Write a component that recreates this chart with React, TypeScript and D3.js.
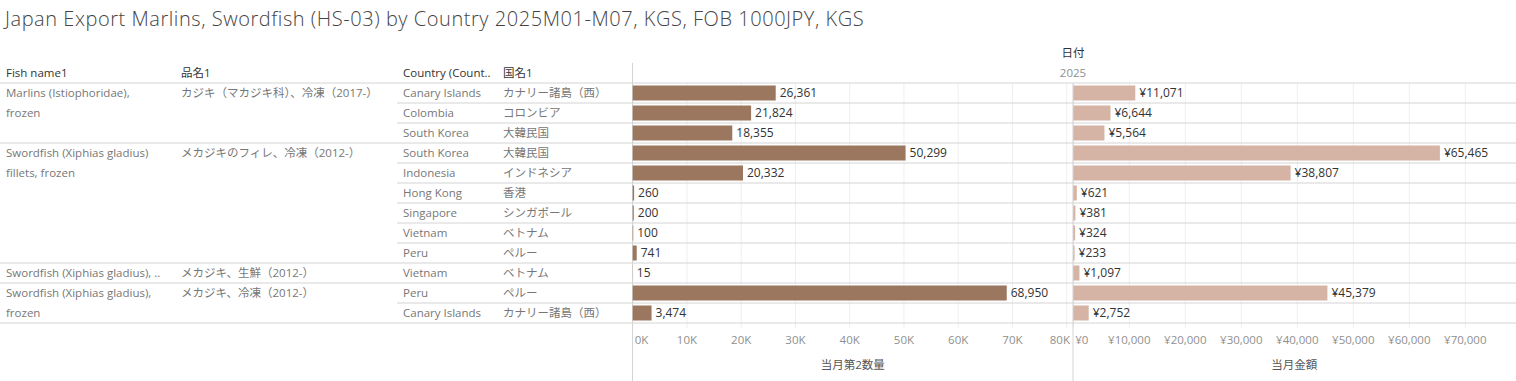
import React, { useEffect } from "react";
import * as d3 from "d3";

const title = "Japan Export Marlins, Swordfish (HS-03) by Country 2025M01-M07, KGS, FOB 1000JPY, KGS";

const fishNameLines: string[][] = [
  ["Marlins (Istiophoridae),", "frozen"],
  ["Swordfish (Xiphias gladius)", "fillets, frozen"],
  ["Swordfish (Xiphias gladius), .."],
  ["Swordfish (Xiphias gladius),", "frozen"],
];
const productNames: string[] = [
  "カジキ（マカジキ科）、冷凍（2017-）",
  "メカジキのフィレ、冷凍（2012-）",
  "メカジキ、生鮮（2012-）",
  "メカジキ、冷凍（2012-）",
];
const rowGroup: number[] = [0, 0, 0, 1, 1, 1, 1, 1, 1, 2, 3, 3];
const countries: string[] = [
  "Canary Islands", "Colombia", "South Korea",
  "South Korea", "Indonesia", "Hong Kong", "Singapore", "Vietnam", "Peru",
  "Vietnam",
  "Peru", "Canary Islands",
];
const countriesJa: string[] = [
  "カナリー諸島（西）", "コロンビア", "大韓民国",
  "大韓民国", "インドネシア", "香港", "シンガポール", "ベトナム", "ペルー",
  "ベトナム",
  "ペルー", "カナリー諸島（西）",
];
const quantity: number[] = [26361, 21824, 18355, 50299, 20332, 260, 200, 100, 741, 15, 68950, 3474];
const amount: number[] = [11071, 6644, 5564, 65465, 38807, 621, 381, 324, 233, 1097, 45379, 2752];

const qtyTicks: number[] = [0, 10000, 20000, 30000, 40000, 50000, 60000, 70000, 80000];
const amtTicks: number[] = [0, 10000, 20000, 30000, 40000, 50000, 60000, 70000];

const W = 1516;
const H = 381;
const FONT = "'Open Sans', 'Noto Sans CJK JP', sans-serif";

export default function App() {
  useEffect(() => {
    document.body.style.margin = "0";
  }, []);

  const rowTop = 83;
  const rowH = 20;
  const nRows = countries.length;
  const rowsBottom = rowTop + rowH * nRows;
  const y = d3.scaleBand<number>().domain(d3.range(nRows)).range([rowTop, rowsBottom]).paddingInner(0.25).paddingOuter(0.125);

  const p1L = 632.7, p1R = 1073;
  const p2L = 1073.3, p2R = 1515;
  const xQ = d3.scaleLinear().domain([0, 80000]).range([p1L, 1066.7]);
  const xA = d3.scaleLinear().domain([0, 10000]).range([p2L, p2L + 56]);

  const fmt = d3.format(",");
  const fmtK = (v: number) => `${v / 1000}K`;
  const fmtY = (v: number) => `¥${fmt(v)}`;

  const groupStarts: number[] = [];
  rowGroup.forEach((g, i) => {
    if (i === 0 || rowGroup[i - 1] !== g) groupStarts.push(i);
  });

  const rowText = "#777";
  const lineCol = "#d4d4d4";
  const gridCol = "#efefef";
  const fs = 11.5;

  const tickLabel = (x: number, label: string, left: number, right: number, key: string) => {
    const wEst = label.length * 6.6;
    let anchor: "middle" | "start" | "end" = "middle";
    let xx = x;
    if (x - wEst / 2 < left + 2) { anchor = "start"; xx = left + 2; }
    else if (x + wEst / 2 > right - 2) { anchor = "end"; xx = right - 3; }
    return (
      <text key={key} x={xx} y={344} textAnchor={anchor} fontSize={fs} fill="#8f8f8f">{label}</text>
    );
  };

  const rowMid = (i: number) => rowTop + i * rowH + rowH / 2;

  return (
    <svg width={W} height={H} style={{ display: "block", fontFamily: FONT }}>
      <rect x={0} y={0} width={W} height={H} fill="#fff" />
      <text x={5} y={26} fontSize={20} fontWeight={300} letterSpacing={0.55} fill="#444">{title}</text>

      <text x={1073} y={57} textAnchor="middle" fontSize={fs} fill="#333">日付</text>
      <text x={1073} y={77} textAnchor="middle" fontSize={fs} fill="#8f8f8f">2025</text>
      <text x={6} y={77} fontSize={fs} fill="#333">Fish name1</text>
      <text x={181} y={77} fontSize={fs} fill="#333">品名1</text>
      <text x={403} y={77} fontSize={fs} fill="#333">Country (Count..</text>
      <text x={503} y={77} fontSize={fs} fill="#333">国名1</text>

      {qtyTicks.map((t) => (
        <line key={"gq" + t} x1={xQ(t)} x2={xQ(t)} y1={rowTop} y2={rowsBottom + 5} stroke={gridCol} strokeWidth={1} />
      ))}
      {amtTicks.map((t) => (
        <line key={"ga" + t} x1={xA(t)} x2={xA(t)} y1={rowTop} y2={rowsBottom + 5} stroke={gridCol} strokeWidth={1} />
      ))}

      <line x1={0} x2={W} y1={rowTop} y2={rowTop} stroke={lineCol} />
      {d3.range(1, nRows + 1).map((i) => {
        const isGroup = i === nRows || groupStarts.includes(i);
        return (
          <line key={"rl" + i} x1={isGroup ? 0 : 397} x2={W} y1={rowTop + i * rowH} y2={rowTop + i * rowH} stroke={lineCol} />
        );
      })}

      <line x1={632.5} x2={632.5} y1={63} y2={H} stroke={lineCol} />
      <line x1={1073} x2={1073} y1={rowTop} y2={H} stroke={lineCol} />

      {groupStarts.map((start, gi) => (
        <g key={"g" + gi}>
          {fishNameLines[gi].map((ln, li) => (
            <text key={li} x={6} y={rowMid(start + li)} dy="0.36em" fontSize={fs} fill={rowText}>{ln}</text>
          ))}
          <text x={181} y={rowMid(start)} dy="0.36em" fontSize={fs} fill={rowText}>{productNames[gi]}</text>
        </g>
      ))}

      {countries.map((c, i) => (
        <g key={"c" + i}>
          <text x={403} y={rowMid(i)} dy="0.36em" fontSize={fs} fill={rowText}>{c}</text>
          <text x={503} y={rowMid(i)} dy="0.36em" fontSize={fs} fill={rowText}>{countriesJa[i]}</text>
        </g>
      ))}

      {quantity.map((v, i) => (
        <g key={"bq" + i}>
          <rect x={xQ(0)} y={y(i)!} width={Math.max(0, xQ(v) - xQ(0))} height={y.bandwidth()} fill="#9c775f" />
          <text x={xQ(v) + 4} y={y(i)! + y.bandwidth() / 2} dy="0.36em" fontSize={12} fill="#333">{fmt(v)}</text>
        </g>
      ))}
      {amount.map((v, i) => (
        <g key={"ba" + i}>
          <rect x={xA(0)} y={y(i)!} width={Math.max(0, xA(v) - xA(0))} height={y.bandwidth()} fill="#d6b4a5" />
          <text x={xA(v) + 4} y={y(i)! + y.bandwidth() / 2} dy="0.36em" fontSize={12} fill="#333">{fmtY(v)}</text>
        </g>
      ))}

      {qtyTicks.map((t) => tickLabel(xQ(t), fmtK(t), p1L, p1R, "tq" + t))}
      {amtTicks.map((t) => tickLabel(xA(t), fmtY(t), p2L, p2R, "ta" + t))}
      <text x={(p1L + p1R) / 2} y={369} textAnchor="middle" fontSize={fs} fill="#555">当月第2数量</text>
      <text x={(p2L + p2R) / 2} y={369} textAnchor="middle" fontSize={fs} fill="#555">当月金額</text>
    </svg>
  );
}
